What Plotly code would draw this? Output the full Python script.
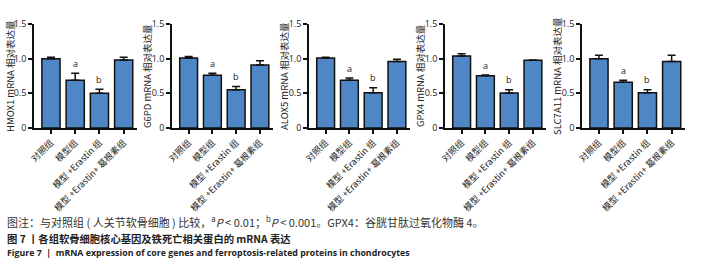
import plotly.graph_objects as go

W, H = 720, 270

categories = ["对照组", "模型组", "模型 +Erastin 组", "模型 +Erastin+ 葛根素组"]
genes = ["HMOX1", "G6PD", "ALOX5", "GPX4", "SLC7A11"]
hmox1 = [1.00, 0.69, 0.50, 0.98]
hmox1_err = [0.02, 0.10, 0.06, 0.04]
g6pd = [1.01, 0.76, 0.55, 0.91]
g6pd_err = [0.02, 0.03, 0.05, 0.06]
alox5 = [1.01, 0.69, 0.51, 0.96]
alox5_err = [0.01, 0.03, 0.07, 0.03]
gpx4 = [1.04, 0.755, 0.505, 0.976]
gpx4_err = [0.03, 0.01, 0.045, 0.005]
slc7a11 = [1.00, 0.66, 0.51, 0.96]
slc7a11_err = [0.05, 0.03, 0.04, 0.09]
sig_labels = ["", "a", "b", ""]
y_ticks = [0, 0.5, 1.0, 1.5]
y_tick_text = ["0", "0.5", "1.0", "1.5"]

values = [hmox1, g6pd, alox5, gpx4, slc7a11]
errors = [hmox1_err, g6pd_err, alox5_err, gpx4_err, slc7a11_err]

# pixel domains for each panel (x of axis line start / end)
x_dom_px = [(34, 137), (172, 273), (309, 410), (445, 546), (582, 685)]
title_x_px = [10, 147, 284, 420, 557]
y_top_px, y_bot_px = 24, 128

fig = go.Figure()
font_cjk = "Noto Sans CJK SC, Noto Sans, sans-serif"

for i in range(5):
    xa = "x" if i == 0 else f"x{i+1}"
    ya = "y" if i == 0 else f"y{i+1}"
    fig.add_trace(go.Bar(
        x=list(range(4)), y=values[i],
        xaxis=xa, yaxis=ya,
        width=0.75,
        marker=dict(color="#4F86C6", line=dict(color="#111111", width=1.5)),
        error_y=dict(type="data", array=errors[i], arrayminus=[0]*4, symmetric=False,
                     color="#111111", thickness=1.5, width=4),
        showlegend=False,
    ))
    d0, d1 = x_dom_px[i]
    xkey = "xaxis" if i == 0 else f"xaxis{i+1}"
    ykey = "yaxis" if i == 0 else f"yaxis{i+1}"
    fig.layout[xkey] = dict(
        domain=[d0 / W, d1 / W], range=[-0.7, 3.55], anchor=ya, automargin=False,
        tickmode="array", tickvals=list(range(4)), ticktext=categories,
        tickangle=-45, ticks="outside", ticklen=4, tickwidth=1.5, tickcolor="#111",
        showline=True, linecolor="#111", linewidth=1.8, showgrid=False, zeroline=False,
        tickfont=dict(family=font_cjk, size=9, color="#222"),
        fixedrange=True,
    )
    fig.layout[ykey] = dict(
        domain=[1 - y_bot_px / H, 1 - y_top_px / H], range=[0, 1.5], anchor=xa, automargin=False,
        tickmode="array", tickvals=y_ticks, ticktext=y_tick_text,
        ticks="outside", ticklen=4, tickwidth=1.5, tickcolor="#111",
        showline=True, linecolor="#111", linewidth=1.8, showgrid=False, zeroline=False,
        tickfont=dict(family="Open Sans, sans-serif", size=9, color="#222"),
        fixedrange=True,
    )
    # y axis title
    fig.add_annotation(
        x=title_x_px[i] / W, y=1 - ((y_top_px + y_bot_px) / 2) / H,
        xref="paper", yref="paper", text=f"{genes[i]} mRNA 相对表达量",
        textangle=-90, showarrow=False,
        font=dict(family=font_cjk, size=9.5, color="#222"),
        xanchor="center", yanchor="middle",
    )
    for j in range(4):
        if sig_labels[j]:
            fig.add_annotation(
                x=j, y=values[i][j] + errors[i][j] + 0.02, xref=xa, yref=ya,
                text=sig_labels[j], showarrow=False, yanchor="bottom",
                font=dict(family="Open Sans, sans-serif", size=9, color="#222"),
            )

captions = [
    ("图注：与对照组 ( 人关节软骨细胞 ) 比较，<sup>a</sup><i>P</i> < 0.01；<sup>b</sup><i>P</i> < 0.001。GPX4：谷胱甘肽过氧化物酶 4。", 221, font_cjk, 11, "#333"),
    ("<b>图 7 丨各组软骨细胞核心基因及铁死亡相关蛋白的 mRNA 表达</b>", 238, font_cjk, 10.3, "#222"),
    ("<b>Figure 7  |  mRNA expression of core genes and ferroptosis-related proteins in chondrocytes</b>", 253, "Open Sans, sans-serif", 8.8, "#222"),
]
for text, ypx, fam, size, col in captions:
    fig.add_annotation(
        x=5 / W, y=1 - ypx / H, xref="paper", yref="paper", text=text,
        showarrow=False, xanchor="left", yanchor="middle",
        font=dict(family=fam, size=size, color=col),
    )

fig.update_layout(
    width=W, height=H, margin=dict(l=0, r=0, t=0, b=0, autoexpand=False),
    paper_bgcolor="white", plot_bgcolor="white", bargap=0.25,
)
fig.write_html("out.html", config={"displayModeBar": False},
               post_script="document.body.style.margin='0';")
